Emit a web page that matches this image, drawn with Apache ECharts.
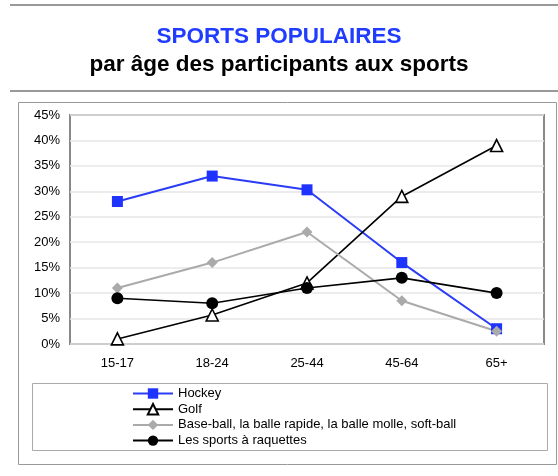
<!DOCTYPE html>
<html><head><meta charset="utf-8">
<script src="https://cdn.jsdelivr.net/npm/echarts@6/dist/echarts.min.js"></script>
<style>html,body{margin:0;padding:0;background:#fff}#c{width:558px;height:476px}</style>
</head><body><div id="c"></div>
<script>
const categories = ['15-17', '18-24', '25-44', '45-64', '65+'];
const hockey = [28, 33, 30.3, 16, 3];
const golf = [1, 5.7, 12, 29, 39];
const baseball = [11, 16, 22, 8.5, 2.5];
const raquettes = [9, 8, 11, 13, 10];
const seriesNames = ['Hockey', 'Golf', 'Base-ball, la balle rapide, la balle molle, soft-ball', 'Les sports à raquettes'];
const yTicks = [0, 5, 10, 15, 20, 25, 30, 35, 40, 45];

const chart = echarts.init(document.getElementById('c'));
const font = 'Liberation Sans, Arial, Helvetica, sans-serif';
chart.setOption({
  animation: false,
  textStyle: { fontFamily: font },
  title: [
    { text: 'SPORTS POPULAIRES', left: 'center', top: 20, textStyle: { color: '#1f3cff', fontSize: 22.5, fontWeight: 'bold', fontFamily: font } },
    { text: 'par âge des participants aux sports', left: 'center', top: 48, textStyle: { color: '#000', fontSize: 22.5, fontWeight: 'bold', fontFamily: font } }
  ],
  graphic: [
    { type: 'line', shape: { x1: 10, y1: 5, x2: 558, y2: 5 }, style: { stroke: '#999', lineWidth: 2 } },
    { type: 'line', shape: { x1: 10, y1: 91, x2: 558, y2: 91 }, style: { stroke: '#999', lineWidth: 2 } },
    { type: 'rect', shape: { x: 18.5, y: 102.5, width: 538, height: 362 }, style: { fill: 'none', stroke: '#999', lineWidth: 1 } },
    { type: 'rect', shape: { x: 32.5, y: 383.5, width: 515, height: 67 }, style: { fill: 'none', stroke: '#aaa', lineWidth: 1 } }
  ],
  grid: { left: 70, top: 115, width: 474, height: 229, show: true, borderColor: '#888', borderWidth: 2, backgroundColor: 'transparent' },
  legend: {
    orient: 'vertical', left: 127, top: 382, itemWidth: 40, itemHeight: 13, itemGap: 2.7,
    textStyle: { fontSize: 13, color: '#000', fontFamily: font },
    data: seriesNames
  },
  xAxis: {
    type: 'category', data: categories, boundaryGap: true,
    axisLine: { show: false }, axisTick: { show: false },
    axisLabel: { color: '#000', fontSize: 13, margin: 13 }
  },
  yAxis: {
    type: 'value', min: 0, max: 45, interval: 5,
    axisLine: { show: false }, axisTick: { show: false },
    axisLabel: { color: '#000', fontSize: 13, margin: 10, formatter: v => yTicks.includes(v) ? v + '%' : '' },
    splitLine: { lineStyle: { color: '#e6e6e6', width: 1.5 } }
  },
  series: [
    { name: seriesNames[0], type: 'line', data: hockey, symbol: 'rect', symbolSize: 11,
      lineStyle: { color: '#2a3cf5', width: 2 }, itemStyle: { color: '#1f33ff' } },
    { name: seriesNames[1], type: 'line', data: golf, symbol: 'triangle', symbolSize: 12,
      lineStyle: { color: '#000', width: 1.6 }, itemStyle: { color: '#fff', borderColor: '#000', borderWidth: 1.6 } },
    { name: seriesNames[2], type: 'line', data: baseball, symbol: 'diamond', symbolSize: 11,
      lineStyle: { color: '#aaa', width: 2 }, itemStyle: { color: '#aaa' } },
    { name: seriesNames[3], type: 'line', data: raquettes, symbol: 'circle', symbolSize: 12,
      lineStyle: { color: '#000', width: 1.6 }, itemStyle: { color: '#000' } }
  ]
});
</script></body></html>
